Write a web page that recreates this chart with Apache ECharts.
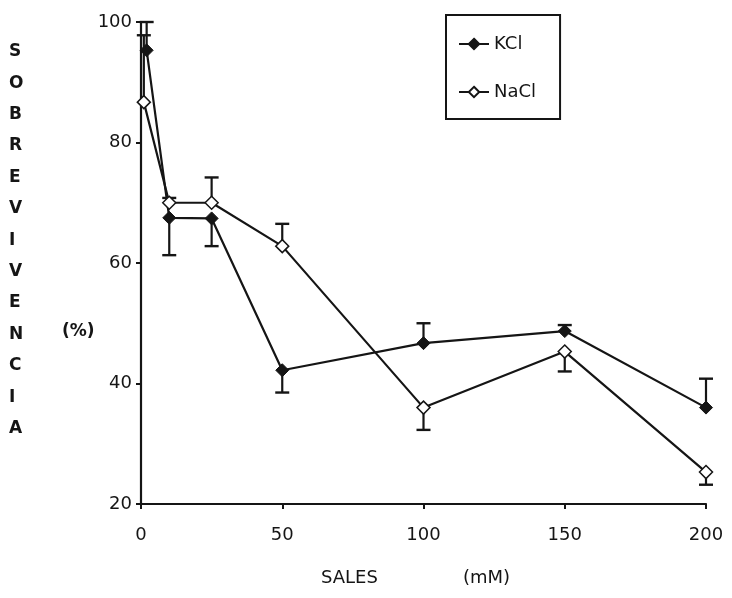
<!DOCTYPE html>
<html><head><meta charset="utf-8">
<script src="https://cdn.jsdelivr.net/npm/echarts@6/dist/echarts.min.js"></script>
<style>html,body{margin:0;padding:0;background:#fff}#c{width:732px;height:598px}</style>
</head><body><div id="c"></div>
<script>
var kclX = [2, 10, 25, 50, 100, 150, 200];
var kclY = [95.3, 67.5, 67.4, 42.2, 46.7, 48.7, 36.0];
var kclErrEnd = [100, 61.3, 62.8, 38.5, 50.0, 49.7, 40.8];
var naclX = [1, 10, 25, 50, 100, 150, 200];
var naclY = [86.7, 70.0, 70.0, 62.8, 36.0, 45.3, 25.3];
var naclErrEnd = [97.8, 70.8, 74.2, 66.5, 32.3, 42.0, 23.2];
var seriesNames = ['KCl', 'NaCl'];
var yTitleLetters = ['S','O','B','R','E','V','I','V','E','N','C','I','A'];
var yUnit = '(%)';
var xTitle = 'SALES';
var xUnit = '(mM)';

var FONT = 'DejaVu Sans';
var INK = '#151515';

function pairs(xs, ys) { return xs.map(function (x, i) { return [x, ys[i]]; }); }
function errData(xs, ys, ends) { return xs.map(function (x, i) { return [x, ys[i], ends[i]]; }); }

function errRender(params, api) {
  var x = api.value(0), y = api.value(1), e = api.value(2);
  var p0 = api.coord([x, y]);
  var p1 = api.coord([x, e]);
  var cw = 7;
  return {
    type: 'group',
    children: [
      { type: 'line', shape: { x1: p0[0], y1: p0[1], x2: p1[0], y2: p1[1] }, style: { stroke: INK, lineWidth: 2.2 } },
      { type: 'line', shape: { x1: p1[0] - cw, y1: p1[1], x2: p1[0] + cw, y2: p1[1] }, style: { stroke: INK, lineWidth: 2.4 } }
    ]
  };
}

var chart = echarts.init(document.getElementById('c'));
chart.setOption({
  backgroundColor: '#fff',
  animation: false,
  grid: { left: 141, right: 26, top: 22, bottom: 94 },
  xAxis: {
    type: 'value', min: 0, max: 200, interval: 50,
    axisLine: { lineStyle: { color: INK, width: 2.2 } },
    axisTick: { show: true, length: 5, lineStyle: { color: INK, width: 2 } },
    axisLabel: { color: INK, fontFamily: FONT, fontSize: 18, margin: 22 },
    splitLine: { show: false }
  },
  yAxis: {
    type: 'value', min: 20, max: 100, interval: 20,
    axisLine: { show: true, lineStyle: { color: INK, width: 2.2 } },
    axisTick: { show: true, length: 5, lineStyle: { color: INK, width: 2 } },
    axisLabel: { color: INK, fontFamily: FONT, fontSize: 18, margin: 9 },
    splitLine: { show: false }
  },
  legend: {
    data: seriesNames,
    orient: 'vertical', left: 446, top: 15,
    padding: [20, 24, 18, 12], itemGap: 30, itemWidth: 30, itemHeight: 13,
    borderColor: INK, borderWidth: 2,
    textStyle: { color: INK, fontFamily: FONT, fontSize: 18 }
  },
  graphic: [
    { type: 'text', left: 9, top: 36, style: { text: yTitleLetters.join('\n'), font: 'bold 17px "DejaVu Sans"', fill: INK, lineHeight: 31.4, align: 'center', width: 18 } },
    { type: 'text', left: 62, top: 323, style: { text: yUnit, font: 'bold 17px "DejaVu Sans"', fill: INK } },
    { type: 'text', left: 321, top: 569, style: { text: xTitle, font: '18px "DejaVu Sans"', fill: INK } },
    { type: 'text', left: 463, top: 569, style: { text: xUnit, font: '18px "DejaVu Sans"', fill: INK } }
  ],
  series: [
    { type: 'custom', renderItem: errRender, data: errData(kclX, kclY, kclErrEnd), z: 1, silent: true },
    { type: 'custom', renderItem: errRender, data: errData(naclX, naclY, naclErrEnd), z: 1, silent: true },
    {
      name: seriesNames[0], type: 'line', data: pairs(kclX, kclY), z: 3,
      symbol: 'diamond', symbolSize: 13,
      lineStyle: { color: INK, width: 2.2 },
      itemStyle: { color: INK, borderColor: INK, borderWidth: 1 }
    },
    {
      name: seriesNames[1], type: 'line', data: pairs(naclX, naclY), z: 3,
      symbol: 'diamond', symbolSize: 13,
      lineStyle: { color: INK, width: 2.2 },
      itemStyle: { color: '#fff', borderColor: INK, borderWidth: 1.5 }
    }
  ]
});
</script></body></html>
